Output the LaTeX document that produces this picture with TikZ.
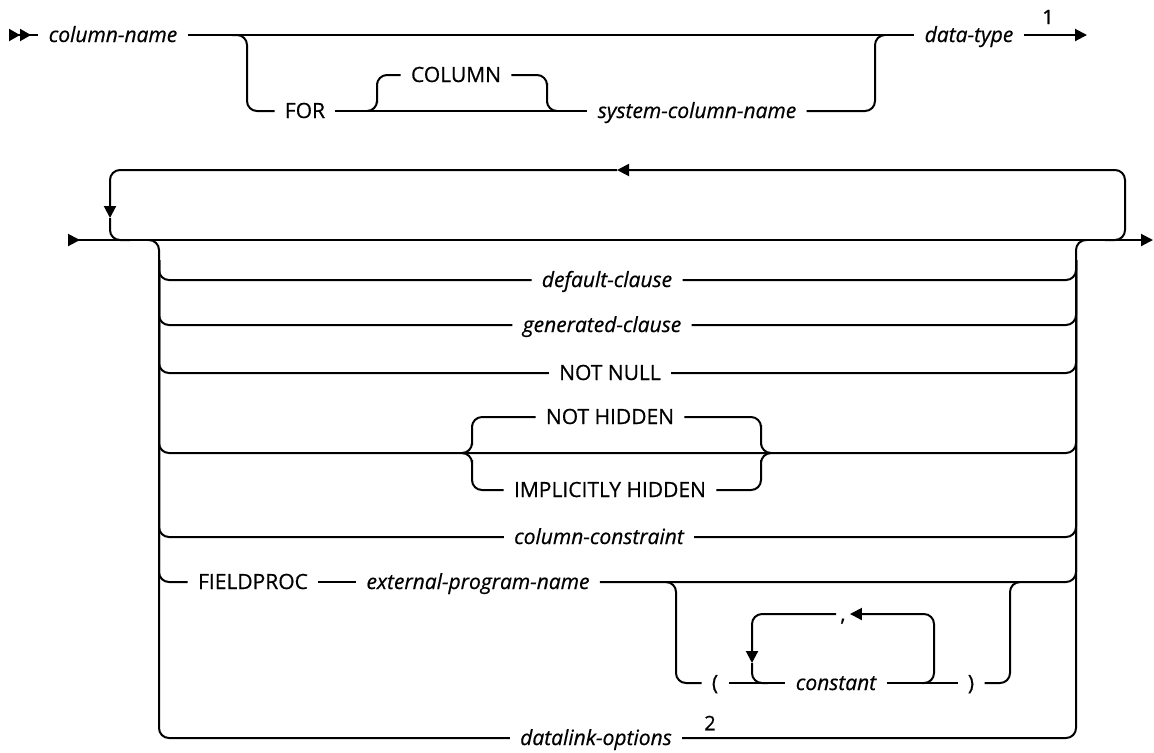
\documentclass[tikz,border=0pt]{standalone}
\usepackage{fontspec}
\setmainfont{Open Sans}[FakeBold=0.6]
\usetikzlibrary{arrows.meta}
\tikzset{
  track/.style={line width=1pt,rounded corners=5pt},
  literal/.style={inner xsep=5pt,inner ysep=1pt,text height=7.5pt,text depth=0.5pt,font=\fontsize{10.5}{12}\selectfont},
  varname/.style={literal,font=\fontsize{10.5}{12}\selectfont\itshape},
  footnum/.style={inner sep=1pt,font=\fontsize{10}{12}\selectfont},
  tip/.style={-{Triangle[length=6pt,width=6pt]}}
}

\begin{document}
\begin{tikzpicture}[x=0.5pt,y=-0.5pt]
  \useasboundingbox (0,0) rectangle (1154,752);

  % first line
  \node[varname] (colname) at (113,35) {column-name};
  \node[literal] (for) at (305,111) {FOR};
  \node[literal] (column) at (456,75) {COLUMN};
  \node[varname] (syscol) at (697,111) {system-column-name};
  \node[varname] (datatype) at (969,35) {data-type};
  \node[footnum] (fn1) at (1048,17) {1};
  \coordinate (begin1) at (9,35);
  \coordinate (end1) at (1087,35);
  \coordinate (forsplit) at (232,35);
  \coordinate (forL) at (247,73);
  \coordinate (forR) at (875,73);
  \coordinate (forjoin) at (885,35);
  \coordinate (colsplit) at (367,111);
  \coordinate (colL) at (377,93);
  \coordinate (colR) at (547,93);
  \coordinate (coljoin) at (557,111);

  \draw[track,{Triangle[reversed,length=5.5pt,width=6pt]Triangle[reversed,length=5.5pt,width=6pt]}-] (begin1) -- (colname.west);
  \draw[track] (colname.east) -- (datatype.west);
  \draw[track,tip] (datatype.east) -- (end1);
  \draw[track] (forsplit) -| (forL) |- (for.west);
  \draw[track] (for.east) -- (syscol.west);
  \draw[track] (colsplit) -| (colL) |- (column.west);
  \draw[track] (column.east) -| (colR) |- (coljoin);
  \draw[track] (syscol.east) -| (forR) |- (forjoin);

  % second line
  \node[varname] (defclause) at (607,280) {default-clause};
  \node[varname] (genclause) at (602,325) {generated-clause};
  \node[literal] (notnull) at (610,373) {NOT NULL};
  \node[literal] (nothid) at (610,417) {NOT HIDDEN};
  \node[literal] (implhid) at (610,490) {IMPLICITLY HIDDEN};
  \node[varname] (colcons) at (599,537) {column-constraint};
  \node[literal] (fieldproc) at (253,582) {FIELDPROC};
  \node[varname] (extprog) at (478,582) {external-program-name};
  \node[literal] (lparen) at (715,683) {(};
  \node[varname] (constant) at (836,683) {constant};
  \node[literal] (rparen) at (971,683) {)};
  \node[literal,inner xsep=2pt] (comma) at (843,614) {,};
  \node[varname] (datalink) at (596,738) {datalink-options};
  \node[footnum] (fn2) at (710,723) {2};
  \coordinate (begin2) at (68,240);
  \coordinate (end2) at (1153,240);
  \coordinate (loopjoin) at (1105,240);
  \coordinate (loopR) at (1125,205);
  \coordinate (looptip) at (617,170);
  \coordinate (loopL) at (110,218);
  \coordinate (loopend) at (130,240);
  \coordinate (splitL) at (148,240);
  \coordinate (stackLtop) at (159,260);
  \coordinate (stackRtop) at (1076,260);
  \coordinate (joinR) at (1087,240);
  \coordinate (hidmid) at (610,453);
  \coordinate (hidsplit) at (462,453);
  \coordinate (hidLup) at (472,435);
  \coordinate (hidLdown) at (472,470);
  \coordinate (hidRup) at (761,435);
  \coordinate (hidRdown) at (761,470);
  \coordinate (hidjoin) at (771,453);
  \coordinate (optsplit) at (666,582);
  \coordinate (optL) at (676,630);
  \coordinate (optR) at (1010,630);
  \coordinate (optjoin) at (1020,582);
  \coordinate (repjoin) at (922,683);
  \coordinate (repR) at (934,650);
  \coordinate (repL) at (752,663);
  \coordinate (repend) at (768,683);

  \draw[track,{Triangle[reversed,length=6pt,width=6pt]}-{Triangle[length=6pt,width=6pt]}] (begin2) -- (end2);
  \draw[track,tip] (loopjoin) -| (loopR) |- (looptip);
  \draw[track,tip] (looptip) -| (loopL);
  \draw[track] (loopL) |- (loopend);
  \draw[track] (splitL) -| (stackLtop) |- (datalink.west);
  \draw[track] (datalink.east) -| (stackRtop) |- (joinR);
  \draw[track] (stackLtop) |- (defclause.west);
  \draw[track] (defclause.east) -| (stackRtop);
  \draw[track] (stackLtop) |- (genclause.west);
  \draw[track] (genclause.east) -| (stackRtop);
  \draw[track] (stackLtop) |- (notnull.west);
  \draw[track] (notnull.east) -| (stackRtop);
  \draw[track] (stackLtop) |- (hidmid) -| (stackRtop);
  \draw[track] (hidsplit) -| (hidLup) |- (nothid.west);
  \draw[track] (hidsplit) -| (hidLdown) |- (implhid.west);
  \draw[track] (nothid.east) -| (hidRup) |- (hidjoin);
  \draw[track] (implhid.east) -| (hidRdown) |- (hidjoin);
  \draw[track] (stackLtop) |- (colcons.west);
  \draw[track] (colcons.east) -| (stackRtop);
  \draw[track] (stackLtop) |- (fieldproc.west);
  \draw[track] (fieldproc.east) -- (extprog.west);
  \draw[track] (extprog.east) -| (stackRtop);
  \draw[track] (optsplit) -| (optL) |- (lparen.west);
  \draw[track] (lparen.east) -- (constant.west);
  \draw[track] (constant.east) -- (rparen.west);
  \draw[track] (rparen.east) -| (optR) |- (optjoin);
  \draw[track,tip] (repjoin) -| (repR) |- (comma.east);
  \draw[track,tip] (comma.west) -| (repL);
  \draw[track] (repL) |- (repend);
\end{tikzpicture}
\end{document}
